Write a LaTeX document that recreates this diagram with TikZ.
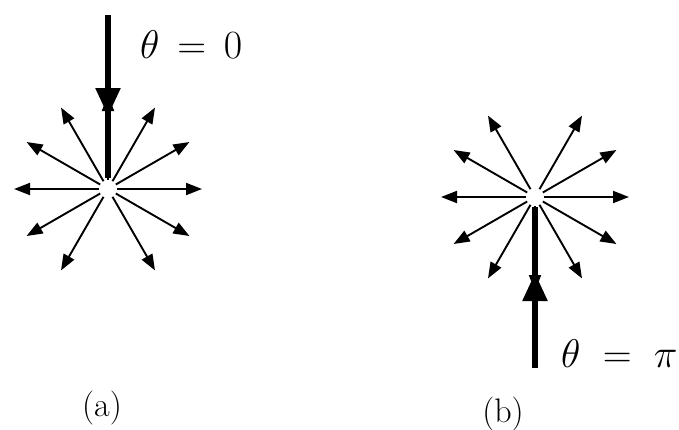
\documentclass[tikz,border=0pt]{standalone}
\usepackage{fix-cm}
\usepackage{tikz}
\usetikzlibrary{arrows.meta}
\usetikzlibrary{calc}

\begin{document}
\begin{tikzpicture}[x=1pt,y=-1pt,
  spoke/.style={line width=1.9pt, -{Triangle[length=16pt,width=12pt]}},
  beam/.style={line width=5.5pt},
  beamtip/.style={line width=5.5pt, -{Triangle[length=28pt,width=24pt]}},
  lbl/.style={font=\fontsize{40}{44}\selectfont, anchor=west, inner sep=0pt},
  sublbl/.style={font=\fontsize{34}{38}\selectfont, inner sep=0pt}]
  \useasboundingbox (0,0) rectangle (679,429);

  % centri delle due stelle
  \coordinate (ca) at (108,189);
  \coordinate (cb) at (535,197);

  % (a): fascio entrante dall'alto
  \coordinate (ina) at (108,15);
  \coordinate (mida) at (108,116);
  \coordinate (enda) at (108,178);
  \draw[beamtip] (ina) -- (mida);
  \draw[beam] ($(mida)+(0,-10)$) -- (enda);
  \foreach \a in {0,30,60,120,150,180,210,240,270,300,330}
    \draw[spoke] ($(ca)+(\a:9)$) -- ($(ca)+(\a:94)$);
  \node[lbl] (ta) at (140,45) {$\theta \,=\, 0$};

  % (b): fascio entrante dal basso
  \coordinate (inb) at (535,368);
  \coordinate (midb) at (535,273);
  \coordinate (endb) at (535,207);
  \draw[beamtip] (inb) -- (midb);
  \draw[beam] ($(midb)+(0,10)$) -- (endb);
  \foreach \a in {0,30,60,90,120,150,180,210,240,300,330}
    \draw[spoke] ($(cb)+(\a:9)$) -- ($(cb)+(\a:94)$);
  \node[lbl] (tb) at (561,354) {$\theta \;=\; \pi$};

  % didascalie
  \node[sublbl] (capa) at (102,408) {(a)};
  \node[sublbl] (capb) at (503,414) {(b)};
\end{tikzpicture}
\end{document}
